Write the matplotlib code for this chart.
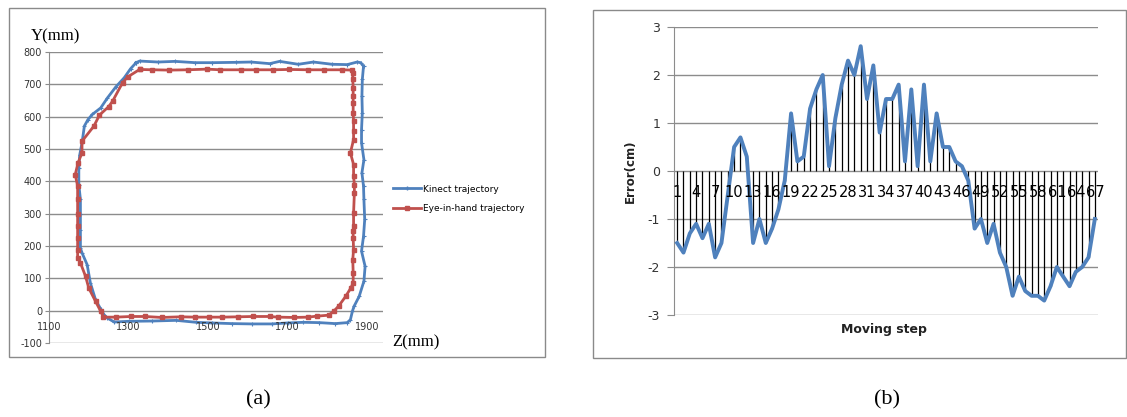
import matplotlib
matplotlib.use("Agg")
import matplotlib.pyplot as plt
from matplotlib.patches import Rectangle
from matplotlib.lines import Line2D

W, H = 1127, 417

# --- panel (a): trajectories, Z (mm) / Y (mm) ---
kinect_z = [1319, 1328, 1374, 1417, 1468, 1510, 1570, 1608, 1655, 1680, 1727, 1765, 1812, 1850, 1875, 1884, 1891,
            1888, 1887, 1888, 1886, 1886, 1892, 1887, 1891, 1892, 1894, 1891, 1886, 1895, 1892, 1880, 1867, 1863, 1858,
            1850, 1820, 1780, 1740, 1700, 1660, 1610, 1560, 1510, 1470, 1420, 1360, 1300, 1264,
            1247, 1238, 1230, 1217, 1204, 1196, 1183, 1179,
            1179, 1179, 1179, 1175, 1175, 1177, 1183,
            1189, 1198, 1209, 1230, 1247, 1268, 1289, 1305, 1319]
kinect_y = [767, 772, 769, 771, 767, 767, 768, 769, 764, 771, 762, 769, 762, 761, 769, 767, 756,
            715, 663, 612, 560, 519, 467, 426, 385, 344, 282, 230, 184, 137, 91, 44, 13, -2, -28,
            -37, -40, -37, -36, -38, -41, -41, -40, -38, -36, -30, -32, -33, -35,
            -23, -12, 5, 34, 86, 142, 179, 194,
            250, 300, 344, 390, 440, 480, 519,
            571, 591, 607, 627, 658, 692, 720, 748, 767]

eye_z = [1328, 1360, 1403, 1449, 1497, 1531, 1582, 1621, 1663, 1704, 1752, 1792, 1837, 1863,
         1864, 1864, 1865, 1865, 1865, 1865, 1866, 1866, 1866, 1858, 1866, 1866, 1868, 1868,
         1866, 1866, 1865, 1865, 1866, 1864, 1865, 1865,
         1859, 1846, 1829, 1816, 1803,
         1773, 1752, 1716, 1676, 1655, 1612, 1576, 1536, 1502, 1468, 1431, 1383, 1342, 1306, 1268,
         1237, 1230, 1217, 1200, 1192, 1179, 1172, 1172,
         1172, 1172, 1172, 1172, 1172, 1166, 1173, 1183, 1183,
         1213, 1227, 1250, 1260, 1285, 1298, 1328]
eye_y = [746, 745, 744, 745, 747, 745, 745, 745, 745, 746, 745, 745, 745, 744,
         736, 715, 690, 663, 643, 612, 586, 555, 529, 488, 452, 416, 390, 364,
         302, 261, 246, 225, 189, 158, 117, 86,
         70, 44, 15, -2, -14,
         -17, -20, -21, -20, -18, -18, -19, -20, -20, -20, -19, -21, -18, -18, -20,
         -20, -2, 29, 70, 106, 148, 164, 189,
         225, 262, 300, 344, 385, 421, 457, 488, 524,
         571, 605, 631, 648, 705, 723, 746]

a_yticks = [-100, 0, 100, 200, 300, 400, 500, 600, 700, 800]
a_xticks = [1100, 1300, 1500, 1700, 1900]
legend_labels = ["Kinect trajectory", "Eye-in-hand trajectory"]

# --- panel (b): error per moving step ---
steps = list(range(1, 68))
error_cm = [-1.5, -1.7, -1.3, -1.1, -1.4, -1.1, -1.8, -1.5, -0.5, 0.5,
            0.7, 0.3, -1.5, -1.0, -1.5, -1.2, -0.8, -0.2, 1.2, 0.2,
            0.3, 1.3, 1.7, 2.0, 0.1, 1.1, 1.8, 2.3, 2.0, 2.6,
            1.5, 2.2, 0.8, 1.5, 1.5, 1.8, 0.2, 1.7, 0.1, 1.8,
            0.2, 1.2, 0.5, 0.5, 0.2, 0.1, -0.2, -1.2, -1.0, -1.5,
            -1.1, -1.7, -2.0, -2.6, -2.2, -2.5, -2.6, -2.6, -2.7, -2.4,
            -2.0, -2.2, -2.4, -2.1, -2.0, -1.8, -1.0]
b_yticks = [-3, -2, -1, 0, 1, 2, 3]
b_label_steps = steps[::3]

BLUE = "#4F81BD"
RED = "#C0504D"
GRID = "#8c8c8c"


def box(x0, y0, x1, y1):
    # pixel box (top-left origin) -> figure fraction rect
    return [x0 / W, 1 - y1 / H, (x1 - x0) / W, (y1 - y0) / H]


fig = plt.figure(figsize=(W / 100, H / 100), dpi=100)

# panel frames
for x0, y0, x1, y1 in [(9, 8, 545, 357), (593, 10, 1126, 358)]:
    fig.add_artist(Rectangle((x0 / W, 1 - y1 / H), (x1 - x0) / W, (y1 - y0) / H,
                             transform=fig.transFigure, fill=False, ec="#8a8a8a", lw=1.0))

# ---------- (a) ----------
ax = fig.add_axes(box(49, 52, 383, 343))
ax.plot(kinect_z, kinect_y, color=BLUE, lw=2.0, marker="+", ms=3, mew=0.8, zorder=3)
ax.plot(eye_z, eye_y, color=RED, lw=2.0, marker="s", ms=2.8, zorder=4)
ax.set_xlim(1100, 1940)
ax.set_ylim(-100, 800)
ax.set_yticks(a_yticks)
ax.set_yticklabels([str(v) for v in a_yticks], fontsize=7, color="#333333")
ax.set_xticks([])
ax.grid(axis="y", color=GRID, lw=1.0)
for s in ["top", "right", "bottom"]:
    ax.spines[s].set_visible(False)
ax.spines["left"].set_color(GRID)
ax.tick_params(axis="y", length=3, color=GRID, pad=2)
for v in a_xticks:
    ax.text(v, -50, str(v), ha="center", va="center", fontsize=7, color="#333333")
fig.text(55 / W, 1 - 36 / H, "Y(mm)", family="Liberation Serif", fontsize=12,
         ha="center", va="center")
fig.text(392 / W, 1 - 342 / H, "Z(mm)", family="Liberation Serif", fontsize=12,
         ha="left", va="center")

handles = [Line2D([], [], color=BLUE, lw=2.0, marker="+", ms=3),
           Line2D([], [], color=RED, lw=2.0, marker="s", ms=2.8)]
fig.legend(handles, legend_labels, loc="center left", bbox_to_anchor=(388 / W, 1 - 199 / H),
           frameon=False, fontsize=6.5, handlelength=3.2, handletextpad=0.2, labelspacing=1.2,
           borderpad=0)

# ---------- (b) ----------
bx = fig.add_axes(box(674, 27, 1098, 315))
bx.vlines(steps, 0, error_cm, color="black", lw=0.9, zorder=2)
bx.plot(steps, error_cm, color=BLUE, lw=2.8, zorder=3)
bx.set_xlim(0.5, 67.5)
bx.set_ylim(-3, 3)
bx.set_yticks(b_yticks)
bx.set_yticklabels([str(v) for v in b_yticks], fontsize=9, color="#333333")
bx.set_xticks([])
bx.grid(axis="y", color=GRID, lw=1.0)
for s in ["top", "right", "bottom"]:
    bx.spines[s].set_visible(False)
bx.spines["left"].set_color(GRID)
bx.tick_params(axis="y", length=5, color=GRID, pad=5)
for st in b_label_steps:
    bx.text(st, -0.44, str(st), ha="center", va="center", fontsize=10.5, color="black")
bx.set_ylabel("Error(cm)", fontsize=8.5, fontweight="bold", color="#222222", labelpad=8)
fig.text(884 / W, 1 - 330 / H, "Moving step", fontsize=9, fontweight="bold",
         color="#222222", ha="center", va="center")

# captions
fig.text(258 / W, 1 - 400 / H, "(a)", family="Liberation Serif", fontsize=16,
         ha="center", va="center")
fig.text(887 / W, 1 - 400 / H, "(b)", family="Liberation Serif", fontsize=16,
         ha="center", va="center")

fig.savefig("out.png", dpi=100)
